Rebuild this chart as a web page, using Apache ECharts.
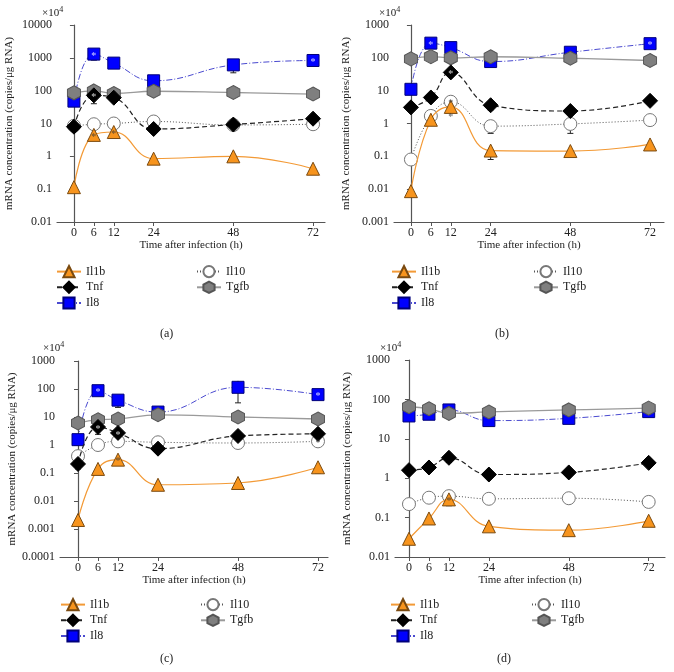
<!DOCTYPE html>
<html><head><meta charset="utf-8">
<script src="https://cdn.jsdelivr.net/npm/echarts@6/dist/echarts.min.js"></script>
<style>html,body{margin:0;padding:0;background:#fff}#c{width:674px;height:672px}</style>
</head><body><div id="c"></div>
<script>
const times = [0, 6, 12, 24, 48, 72];
const seriesNames = ['Il1b', 'Tnf', 'Il8', 'Il10', 'Tgfb'];
const yTickMinA = 0.01,  yTickMaxA = 10000;
const yTickMinB = 0.001, yTickMaxB = 1000;
const yTickMinC = 0.0001, yTickMaxC = 1000;
const yTickMinD = 0.01,  yTickMaxD = 1000;

// panel (a)
const a_Il1b = [0.115, 4.5, 5.5, 0.85, 1.0, 0.42];
const a_Tnf  = [8, 72, 61, 6.8, 9.3, 14];
const a_Il8  = [48, 1300, 690, 200, 610, 830];
const a_Il10 = [8.5, 9.5, 10, 11.5, 9, 9.5];
const a_Tgfb = [86, 98, 82, 96, 88, 79];
// panel (b)
const b_Il1b = [0.0087, 1.3, 3.2, 0.15, 0.145, 0.23];
const b_Tnf  = [3.1, 6.2, 36, 3.6, 2.4, 4.9];
const b_Il8  = [11, 280, 205, 77, 148, 270];
const b_Il10 = [0.08, 1.7, 4.6, 0.83, 0.97, 1.27];
const b_Tgfb = [93, 109, 100, 108, 97, 83];
// panel (c)
const c_Il1b = [0.0021, 0.14, 0.3, 0.038, 0.044, 0.16];
const c_Tnf  = [0.21, 4.4, 2.7, 0.74, 2.1, 2.5];
const c_Il8  = [1.55, 87, 40, 15, 115, 63];
const c_Il10 = [0.4, 1.0, 1.35, 1.25, 1.18, 1.35];
const c_Tgfb = [6.1, 8, 8.5, 12, 10, 8.5];
// panel (d)
const d_Il1b = [0.029, 0.095, 0.29, 0.06, 0.048, 0.083];
const d_Tnf  = [1.6, 1.87, 3.3, 1.24, 1.4, 2.45];
const d_Il8  = [38, 42, 54, 29, 33, 49];
const d_Il10 = [0.22, 0.32, 0.35, 0.3, 0.31, 0.25];
const d_Tgfb = [65, 58, 44, 48, 54, 60];

// error bars: [time, low, high]
const errA = [[6, 850, 1300], [48, 350, 800], [6, 40, 72], [6, 3.8, 4.5], [12, 4.6, 5.5]];
const errB = [[6, 1.0, 1.3], [24, 0.08, 0.2], [24, 0.5, 1.2], [48, 0.5, 1.4], [48, 0.1, 0.18], [72, 0.19, 0.28], [12, 30, 45], [24, 2.6, 3.6]];
const errC = [[48, 32, 195], [12, 22, 40], [0, 0.14, 0.21], [6, 2.4, 4.4], [72, 0.1, 0.22], [72, 50, 63], [0, 0.0016, 0.0021]];
const errD = [[12, 0.2, 0.35], [12, 2.5, 3.3], [24, 0.045, 0.07], [6, 0.25, 0.32]];
// asterisks: [time, value]
const starWA = [[6, 1300], [72, 830], [6, 72]];
const starDA = [[6, 4.5], [12, 5.5]];
const starWB = [[6, 280], [72, 270], [12, 36]];
const starDB = [[12, 4.6], [12, 1.8]];
const starWC = [[6, 87], [72, 63], [6, 4.4], [12, 2.7]];
const starDC = [[72, 1.35], [12, 0.3]];
const starWD = [];
const starDD = [[12, 0.29]];

const SERIF = '"Liberation Serif", "DejaVu Serif", serif';
const hexPath = 'path://M0,-10L8.66,-5L8.66,5L0,10L-8.66,5L-8.66,-5Z';
const styles = {
  Il1b: {symbol: 'triangle', size: 13, fill: '#f7941d', border: '#7a4a10', line: {color: '#f39a36', width: 1.2, type: 'solid'}},
  Tnf:  {symbol: 'diamond', size: 15, fill: '#000', border: '#000', line: {color: '#222', width: 1.2, type: [5, 3]}},
  Il8:  {symbol: 'rect', size: 12, fill: '#0000ff', border: '#00007a', line: {color: '#4a4ad0', width: 1, type: [6, 2, 1, 2]}},
  Il10: {symbol: 'circle', size: 13, fill: '#fff', border: '#777', line: {color: '#555', width: 1, type: [1, 2]}},
  Tgfb: {symbol: hexPath, size: [13, 14], fill: '#7f7f7f', border: '#555', line: {color: '#9a9a9a', width: 1.3, type: 'solid'}}
};

const panels = [
  {data: {Il1b: a_Il1b, Tnf: a_Tnf, Il8: a_Il8, Il10: a_Il10, Tgfb: a_Tgfb}, err: errA, sw: starWA, sd: starDA, ymin: yTickMinA, ymax: yTickMaxA,
   grid: {left: 57, top: 25, width: 268, height: 197}, xmin: -5.1, xmax: 75.6, label: '(a)', lx: 168, ly: 335, mx: 42, my: 6, lg1: [56, 265], lg2: [196, 265]},
  {data: {Il1b: b_Il1b, Tnf: b_Tnf, Il8: b_Il8, Il10: b_Il10, Tgfb: b_Tgfb}, err: errB, sw: starWB, sd: starDB, ymin: yTickMinB, ymax: yTickMaxB,
   grid: {left: 394, top: 25, width: 270, height: 197}, xmin: -5.1, xmax: 76.2, label: '(b)', lx: 503, ly: 335, mx: 379, my: 6, lg1: [391, 265], lg2: [533, 265]},
  {data: {Il1b: c_Il1b, Tnf: c_Tnf, Il8: c_Il8, Il10: c_Il10, Tgfb: c_Tgfb}, err: errC, sw: starWC, sd: starDC, ymin: yTickMinC, ymax: yTickMaxC,
   grid: {left: 60, top: 361, width: 268, height: 196}, xmin: -5.4, xmax: 75, label: '(c)', lx: 168, ly: 660, mx: 43, my: 341, lg1: [60, 598], lg2: [200, 598]},
  {data: {Il1b: d_Il1b, Tnf: d_Tnf, Il8: d_Il8, Il10: d_Il10, Tgfb: d_Tgfb}, err: errD, sw: starWD, sd: starDD, ymin: yTickMinD, ymax: yTickMaxD,
   grid: {left: 395, top: 360, width: 270, height: 197}, xmin: -4.2, xmax: 76.9, label: '(d)', lx: 505, ly: 660, mx: 380, my: 341, lg1: [390, 598], lg2: [531, 598]}
];

function fmt(v) { return String(Number(v.toPrecision(6))); }

const option = {backgroundColor: '#fff', animation: false, grid: [], xAxis: [], yAxis: [], series: [], legend: [], graphic: []};
const axisColor = '#555';
panels.forEach((p, i) => {
  option.grid.push(Object.assign({containLabel: false, outerBoundsMode: 'none'}, p.grid));
  option.xAxis.push({
    type: 'value', gridIndex: i, min: p.xmin, max: p.xmax,
    name: 'Time after infection (h)', nameLocation: 'middle', nameGap: 18,
    nameTextStyle: {fontFamily: SERIF, fontSize: 11, color: '#222'},
    axisLine: {show: true, lineStyle: {color: axisColor, width: 1.2}},
    axisTick: {show: true, customValues: times, length: 4, lineStyle: {color: axisColor}},
    axisLabel: {customValues: times, fontFamily: SERIF, fontSize: 12, color: '#222', margin: 5},
    splitLine: {show: false}
  });
  option.yAxis.push({
    type: 'log', logBase: 10, gridIndex: i, min: p.ymin, max: p.ymax, splitNumber: 10,
    name: 'mRNA concentration (copies/μg RNA)', nameLocation: 'middle', nameGap: 42, nameRotate: 90,
    nameTextStyle: {fontFamily: SERIF, fontSize: 11, color: '#222'},
    axisLine: {show: true, lineStyle: {color: axisColor, width: 1.2}},
    axisTick: {show: true, length: 4, lineStyle: {color: axisColor}},
    axisLabel: {formatter: fmt, fontFamily: SERIF, fontSize: 12, color: '#222', margin: 5},
    splitLine: {show: false}
  });
  // error bars
  option.series.push({
    type: 'custom', xAxisIndex: i, yAxisIndex: i, z: 1,
    data: p.err, encode: {x: 0, y: [1, 2]},
    renderItem: function (params, api) {
      const x = api.value(0);
      const lo = api.coord([x, api.value(1)]);
      const hi = api.coord([x, api.value(2)]);
      const s = {stroke: '#222', lineWidth: 1};
      return {type: 'group', children: [
        {type: 'line', shape: {x1: lo[0], y1: lo[1], x2: hi[0], y2: hi[1]}, style: s},
        {type: 'line', shape: {x1: lo[0] - 3, y1: lo[1], x2: lo[0] + 3, y2: lo[1]}, style: s}
      ]};
    }
  });
  ['Il8', 'Tgfb', 'Il10', 'Tnf', 'Il1b'].forEach((name, k) => {
    const st = styles[name];
    option.series.push({
      name: name, type: 'line', xAxisIndex: i, yAxisIndex: i, z: 2 + k,
      smooth: 0.45, symbol: st.symbol, symbolSize: st.size, showAllSymbol: true,
      data: times.map((t, j) => [t, p.data[name][j]]),
      lineStyle: st.line,
      itemStyle: {color: st.fill, borderColor: st.border, borderWidth: 1, opacity: 1}
    });
  });
  option.series.push({
    type: 'scatter', xAxisIndex: i, yAxisIndex: i, z: 20, symbolSize: 0, silent: true,
    data: p.sw, label: {show: true, position: 'inside', formatter: '*', color: '#fff', fontSize: 10, fontFamily: SERIF, offset: [0, 2]}
  });
  option.series.push({
    type: 'scatter', xAxisIndex: i, yAxisIndex: i, z: 20, symbolSize: 0, silent: true,
    data: p.sd, label: {show: true, position: 'inside', formatter: '*', color: '#333', fontSize: 10, fontFamily: SERIF, offset: [0, 2]}
  });
  const lgCommon = {orient: 'vertical', itemWidth: 24, itemHeight: 14, itemGap: 2.5, selectedMode: false,
    textStyle: {fontFamily: SERIF, fontSize: 12, color: '#222'}, padding: 0};
  option.legend.push(Object.assign({}, lgCommon, {left: p.lg1[0], top: p.lg1[1], data: ['Il1b', 'Tnf', 'Il8']}));
  option.legend.push(Object.assign({}, lgCommon, {left: p.lg2[0], top: p.lg2[1], data: ['Il10', 'Tgfb']}));
  option.graphic.push({type: 'text', left: p.lx - 8, top: p.ly - 7, style: {text: p.label, font: '12px ' + SERIF, fill: '#222'}});
  option.graphic.push({type: 'text', left: p.mx, top: p.my, style: {text: '×10{s|4}', font: '11px ' + SERIF, fill: '#222',
    rich: {s: {fontSize: 8, verticalAlign: 'top', padding: [0, 0, 6, 0], fontFamily: SERIF}}}});
});

const chart = echarts.init(document.getElementById('c'), null, {renderer: 'canvas'});
chart.setOption(option);
</script></body></html>
